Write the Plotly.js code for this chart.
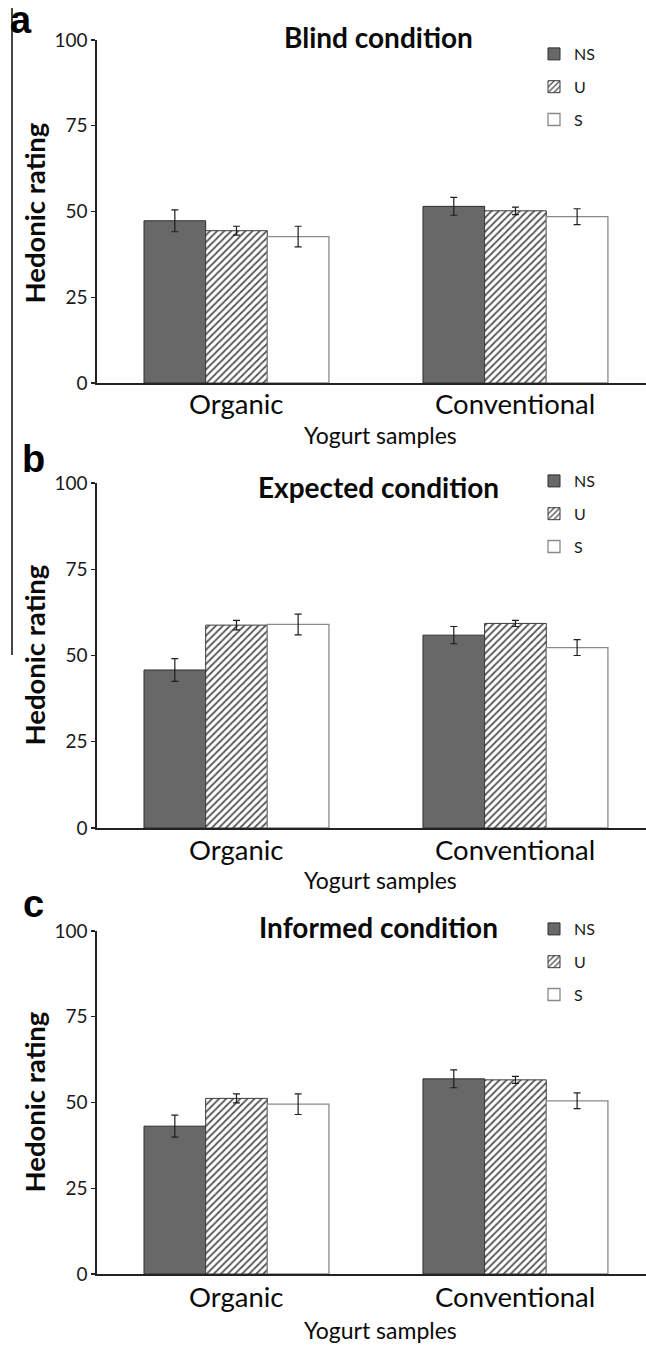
<!DOCTYPE html>
<html>
<head>
<meta charset="utf-8">
<script src="https://cdn.plot.ly/plotly-3.0.1.min.js"></script>
<style>
  html, body { margin: 0; padding: 0; background: #fff; }
  #chart { width: 646px; height: 1345px; }
</style>
</head>
<body>
<div id="chart"></div>
<script>
// ---------- data ----------
const categories = ['Organic', 'Conventional'];
const seriesNames = ['NS', 'U', 'S'];
const panelTitles = ['Blind condition', 'Expected condition', 'Informed condition'];
const panelLetters = ['a', 'b', 'c'];
const yTickVals = [0, 25, 50, 75, 100];

// Blind condition
const blindNS = [47.3, 51.5];
const blindU  = [44.4, 50.2];
const blindS  = [42.7, 48.5];
const blindNSErr = [3.2, 2.6];
const blindUErr  = [1.3, 1.1];
const blindSErr  = [3.0, 2.3];

// Expected condition
const expectedNS = [45.8, 55.9];
const expectedU  = [58.8, 59.3];
const expectedS  = [59.0, 52.3];
const expectedNSErr = [3.3, 2.5];
const expectedUErr  = [1.4, 0.9];
const expectedSErr  = [3.0, 2.3];

// Informed condition
const informedNS = [43.1, 56.9];
const informedU  = [51.2, 56.6];
const informedS  = [49.5, 50.5];
const informedNSErr = [3.2, 2.6];
const informedUErr  = [1.3, 1.0];
const informedSErr  = [3.0, 2.3];

// ---------- layout helpers ----------
const W = 646, H = 1345;
const px = x => x / W;
const py = y => 1 - y / H;
const FONT = 'Lato, "Open Sans", sans-serif';

const panels = [
  { vals: [blindNS, blindU, blindS], errs: [blindNSErr, blindUErr, blindSErr],
    top: 40, base: 383, titleY: 37, legTop: 37, letterY: 20, catY: 404, xTitleY: 435, yTitleY: 213 },
  { vals: [expectedNS, expectedU, expectedS], errs: [expectedNSErr, expectedUErr, expectedSErr],
    top: 483, base: 828, titleY: 487, legTop: 464, letterY: 459, catY: 849, xTitleY: 880, yTitleY: 655 },
  { vals: [informedNS, informedU, informedS], errs: [informedNSErr, informedUErr, informedSErr],
    top: 931, base: 1274, titleY: 927, legTop: 912, letterY: 904, catY: 1296, xTitleY: 1330, yTitleY: 1102 }
];

const styles = [
  { color: '#686868', line: { color: '#2e2e2e', width: 1 } },
  { color: '#ffffff', line: { color: '#3a3a3a', width: 1 },
    pattern: { shape: '/', fgcolor: '#555555', bgcolor: '#ffffff', size: 5, solidity: 0.35 } },
  { color: '#ffffff', line: { color: '#8a8a8a', width: 1.3 } }
];

const traces = [];
const layout = {
  width: W, height: H,
  margin: { l: 0, r: 0, t: 0, b: 0 },
  paper_bgcolor: '#ffffff', plot_bgcolor: 'rgba(0,0,0,0)',
  barmode: 'group', bargap: 0.337, bargroupgap: 0,
  font: { family: FONT, color: '#111' },
  annotations: [], shapes: []
};

panels.forEach((p, i) => {
  const sfx = i === 0 ? '' : String(i + 1);
  const legName = 'legend' + sfx;
  for (let s = 0; s < 3; s++) {
    const st = styles[s];
    traces.push({
      type: 'bar',
      name: seriesNames[s],
      x: categories,
      y: p.vals[s],
      xaxis: 'x' + sfx, yaxis: 'y' + sfx,
      legend: legName,
      legendgroup: 'g' + i + s,
      marker: Object.assign({ color: st.color, line: st.line }, st.pattern ? { pattern: st.pattern } : {}),
      error_y: { type: 'data', array: p.errs[s], visible: true, color: '#1e1e1e', thickness: 1.2, width: 3.5 },
      hoverinfo: 'skip'
    });
  }
  layout['xaxis' + sfx] = {
    domain: [px(97), 1], anchor: 'y' + sfx,
    type: 'category', range: [-0.5, 1.468],
    showline: true, linecolor: '#222', linewidth: 1.6,
    ticks: '', showgrid: false, zeroline: false,
    showticklabels: false, fixedrange: true
  };
  layout['yaxis' + sfx] = {
    domain: [py(p.base), py(p.top)], anchor: 'x' + sfx,
    range: [0, 100], tickvals: yTickVals,
    showline: true, linecolor: '#222', linewidth: 1.6,
    ticks: 'outside', ticklen: 4, tickcolor: '#222', tickwidth: 1.2,
    showgrid: false, zeroline: false,
    tickfont: { family: FONT, size: 19, color: '#1a1a1a' }, fixedrange: true
  };
  layout[legName] = {
    x: px(534), xanchor: 'left', y: py(p.legTop), yanchor: 'top',
    traceorder: 'grouped', tracegroupgap: 9,
    bgcolor: 'rgba(0,0,0,0)', borderwidth: 0,
    font: { family: FONT, size: 16, color: '#1a1a1a' },
    itemclick: false, itemdoubleclick: false
  };
  // category labels
  categories.forEach((c) => {
    layout.annotations.push({
      xref: 'x' + sfx, yref: 'paper', x: c, y: py(p.catY),
      text: c, showarrow: false, xanchor: 'center', yanchor: 'middle',
      font: { family: FONT, size: 27.5, color: '#0a0a0a' }
    });
  });
  // panel title
  layout.annotations.push({
    xref: 'paper', yref: 'paper', x: px(378), y: py(p.titleY),
    text: panelTitles[i], showarrow: false, xanchor: 'center', yanchor: 'middle',
    font: { family: FONT, size: 28, color: '#0a0a0a', weight: 'bold' }
  });
  // x title
  layout.annotations.push({
    xref: 'paper', yref: 'paper', x: px(380), y: py(p.xTitleY),
    text: 'Yogurt samples', showarrow: false, xanchor: 'center', yanchor: 'middle',
    font: { family: FONT, size: 23, color: '#0a0a0a' }
  });
  // y title
  layout.annotations.push({
    xref: 'paper', yref: 'paper', x: px(33.5), y: py(p.yTitleY),
    text: 'Hedonic rating', showarrow: false, textangle: -90,
    xanchor: 'center', yanchor: 'middle',
    font: { family: FONT, size: 27.5, color: '#0a0a0a', weight: 'bold' }
  });
  // panel letter
  layout.annotations.push({
    xref: 'paper', yref: 'paper', x: px(i === 0 ? 21 : 33), y: py(p.letterY),
    text: panelLetters[i], showarrow: false, xanchor: 'center', yanchor: 'middle',
    font: { family: '"Liberation Sans", Arial, sans-serif', size: 38, color: '#000', weight: 'bold' }
  });
});

// stray vertical rule on the left of the original figure
layout.shapes.push({
  type: 'line', xref: 'paper', yref: 'paper',
  x0: px(12), x1: px(12), y0: py(8), y1: py(655),
  line: { color: '#1a1a1a', width: 1.6 }
});

Plotly.newPlot('chart', traces, layout, { staticPlot: true, displayModeBar: false });
</script>
</body>
</html>
